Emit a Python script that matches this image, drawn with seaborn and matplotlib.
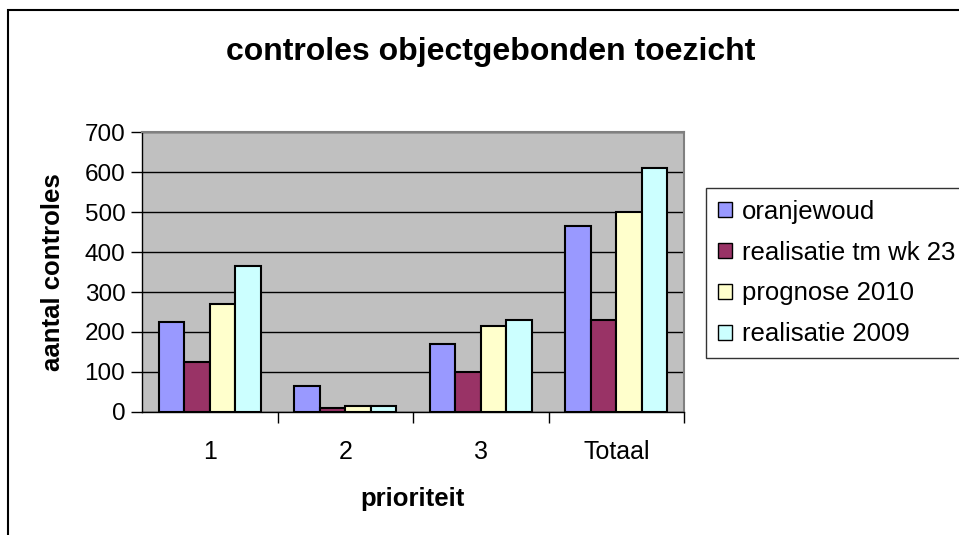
import matplotlib
matplotlib.use('Agg')
import matplotlib.pyplot as plt
import matplotlib.patches as mpatches
from matplotlib.ticker import FixedLocator
import seaborn as sns
import pandas as pd

categories = ['1', '2', '3', 'Totaal']
series = ['oranjewoud', 'realisatie tm wk 23', 'prognose 2010', 'realisatie 2009']
oranjewoud = [225, 65, 170, 465]
realisatie_wk23 = [125, 10, 100, 230]
prognose_2010 = [270, 15, 215, 500]
realisatie_2009 = [365, 15, 230, 610]
colors = ['#9999FF', '#993366', '#FFFFCC', '#CCFFFF']

rows = []
for name, vals in zip(series, [oranjewoud, realisatie_wk23, prognose_2010, realisatie_2009]):
    for cat, v in zip(categories, vals):
        rows.append({'prioriteit': cat, 'serie': name, 'aantal': v})
df = pd.DataFrame(rows)

sns.set_style('white')
plt.rcParams['font.family'] = ['Liberation Sans', 'DejaVu Sans']
plt.rcParams.update({'text.color': 'black', 'axes.labelcolor': 'black',
                     'xtick.color': 'black', 'ytick.color': 'black'})

fig = plt.figure(figsize=(9.59, 5.35), dpi=100)
ax = fig.add_axes([142 / 959, 1 - 412 / 535, (684 - 142) / 959, (412 - 132) / 535])

sns.barplot(data=df, x='prioriteit', y='aantal', hue='serie', order=categories,
            hue_order=series, palette=colors, width=0.75, gap=0,
            edgecolor='black', linewidth=1.5, saturation=1, ax=ax, legend=False)

ax.set_facecolor('#C0C0C0')
ax.set_ylim(0, 700)
ax.set_xlim(-0.5, 3.5)
ax.set_yticks(range(0, 701, 100))
ax.yaxis.grid(True, color='black', linewidth=1)
ax.set_axisbelow(True)
for s in ['top', 'right']:
    ax.spines[s].set_color('#808080')
    ax.spines[s].set_linewidth(1.5)
for s in ['left', 'bottom']:
    ax.spines[s].set_color('black')
    ax.spines[s].set_linewidth(1)

ax.tick_params(axis='y', direction='out', length=8, width=1,
               labelsize=17.5, pad=4, left=True)
ax.tick_params(axis='x', which='major', length=0, labelsize=18, pad=20)
ax.xaxis.set_minor_locator(FixedLocator([0.5, 1.5, 2.5, 3.5]))
ax.tick_params(axis='x', which='minor', direction='out', length=8, width=1,
               bottom=True)

ax.set_xlabel('prioriteit', fontsize=18.5, fontweight='bold', labelpad=17)
ax.set_ylabel('aantal controles', fontsize=18.5, fontweight='bold', labelpad=14)

fig.text(491 / 959, 1 - 52 / 535, 'controles objectgebonden toezicht',
         ha='center', va='center', fontsize=23, fontweight='bold')

handles = [mpatches.Patch(facecolor=c, edgecolor='black', linewidth=1) for c in colors]
leg = fig.legend(handles, series, loc='upper left',
                 bbox_to_anchor=(706 / 959, 1 - 188 / 535), fontsize=18.5,
                 frameon=True, fancybox=False, edgecolor='black',
                 handlelength=0.55, handleheight=0.55, handletextpad=0.4,
                 labelspacing=0.66, borderpad=0.45, borderaxespad=0)
leg.get_frame().set_linewidth(1)

# outer chart frame
fig.patches.append(mpatches.Rectangle((8 / 959, -0.1), 1.1, 1 - 10 / 535 + 0.1,
                                      transform=fig.transFigure, fill=False,
                                      edgecolor='black', linewidth=1.5))

fig.savefig('out.png', dpi=100)
